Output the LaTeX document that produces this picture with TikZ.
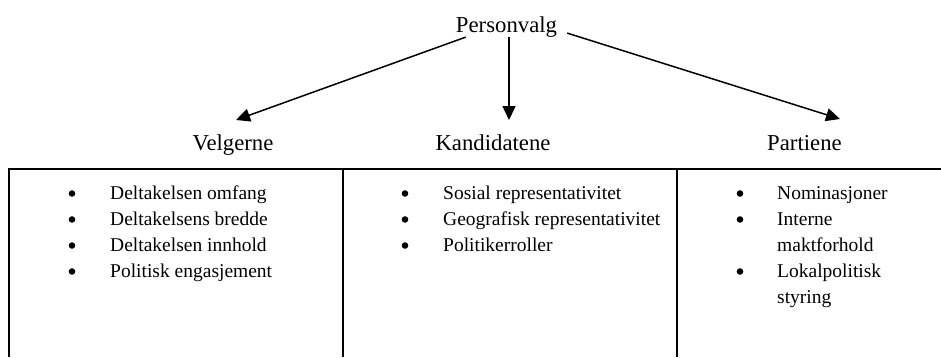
\documentclass[tikz,border=0pt]{standalone}
\usepackage{fontspec}
\setmainfont{Liberation Serif}
\usepackage{tikz}
\usetikzlibrary{arrows.meta, positioning}
\tikzstyle{pil} = [-{Triangle[length = 14pt, width = 13pt]}, line width = 1.5]
\tikzstyle{linje} = [line width = 1.8]
\tikzstyle{tittel} = [inner sep = 0, anchor = base, font = \fontsize{22.75}{27}\selectfont]
\tikzstyle{punkt} = [inner sep = 0, anchor = base west, font = \fontsize{19.5}{26}\selectfont]

\begin{document}
\begin{tikzpicture}[x = 1pt, y = -1pt]
    \useasboundingbox (0, 0) rectangle (941, 357);
    % Overskrifter
    \node[tittel] (pv) at (506.5, 32) {Personvalg};
    \node[tittel] (velg) at (233, 150) {Velgerne};
    \node[tittel] (kand) at (493, 150) {Kandidatene};
    \node[tittel] (part) at (804.5, 150) {Partiene};
    % Pilspisser
    \coordinate (velg pil) at (236, 120);
    \coordinate (kand pil) at (509, 120);
    \coordinate (part pil) at (840, 119);
    % Piler
    \draw[pil] ([xshift = 10pt]pv.south west) -- (velg pil);
    \draw[pil] ([xshift = 2.5pt]pv.south) -- (kand pil);
    \draw[pil] ([xshift = 10pt, yshift = 4pt]pv.south east) -- (part pil);
    % Tabell
    \draw[linje] (8, 169) -- (941, 169);
    \foreach \x in {9, 343, 677}
        \draw[linje] (\x, 169) -- (\x, 357);
    % Velgerne
    \foreach \txt [count = \i from 0] in {Deltakelsen omfang, Deltakelsens bredde, Deltakelsen innhold, Politisk engasjement}
        \node[punkt] (velg \i) at (110, 199 + 26*\i) {\txt};
    \foreach \r in {0, ..., 3}
        \fill (72, 193.5 + 26*\r) circle (3.3pt);
    % Kandidatene
    \foreach \txt [count = \i from 0] in {Sosial representativitet, Geografisk representativitet, Politikerroller}
        \node[punkt] (kand \i) at (443, 199 + 26*\i) {\txt};
    \foreach \r in {0, ..., 2}
        \fill (405, 193.5 + 26*\r) circle (3.3pt);
    % Partiene
    \foreach \txt [count = \i from 0] in {Nominasjoner, Interne, maktforhold, Lokalpolitisk, styring}
        \node[punkt] (part \i) at (777, 199 + 26*\i) {\txt};
    \foreach \r in {0, 1, 3}
        \fill (740, 193.5 + 26*\r) circle (3.3pt);
\end{tikzpicture}
\end{document}
